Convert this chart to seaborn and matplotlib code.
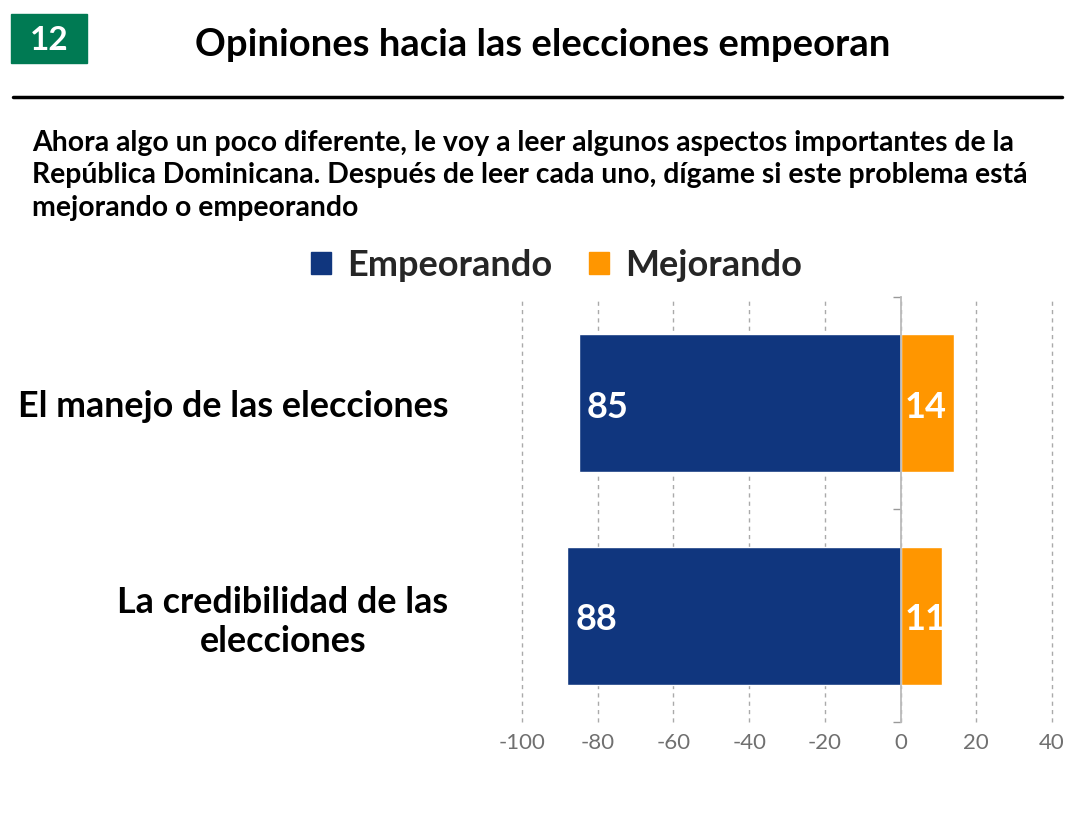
import pandas as pd
import matplotlib.pyplot as plt
import seaborn as sns
from matplotlib.lines import Line2D
from matplotlib.patches import Rectangle

# Datos del gráfico
aspectos = ["El manejo de las elecciones", "La credibilidad de las\nelecciones"]
empeorando = [85, 88]
mejorando = [14, 11]
series = ["Empeorando", "Mejorando"]
colores = ["#10367e", "#ff9600"]
xticks = [-100, -80, -60, -40, -20, 0, 20, 40]

titulo = "Opiniones hacia las elecciones empeoran"
numero = "12"
subtitulo = ("Ahora algo un poco diferente, le voy a leer algunos aspectos importantes de la\n"
             "República Dominicana. Después de leer cada uno, dígame si este problema está\n"
             "mejorando o empeorando")

# Tabla larga para seaborn (empeorando va a la izquierda)
df = pd.DataFrame({
    "aspecto": aspectos * 2,
    "valor": [-v for v in empeorando] + mejorando,
    "serie": [series[0]] * len(aspectos) + [series[1]] * len(aspectos),
})

sns.set_theme(style="white")
plt.rcParams["font.family"] = ["Lato", "DejaVu Sans"]
peso = "bold"

fig = plt.figure(figsize=(10.87, 8.40), dpi=100)
ax = fig.add_axes([0.4802, 0.1405, 0.4876, 0.5060])

sns.barplot(data=df, y="aspecto", x="valor", hue="serie", orient="h",
            dodge=False, width=0.65, palette=colores, hue_order=series,
            order=aspectos, ax=ax, legend=False, saturation=1)

ax.set_xlim(xticks[0], xticks[-1])
ax.set_ylim(1.5, -0.5)
ax.set_xticks(xticks)
ax.set_xticklabels([str(t) for t in xticks], fontsize=16, color="#707070")
ax.set_xlabel("")
ax.set_ylabel("")

# rejilla punteada
ax.xaxis.grid(True, color="#aaaaaa", linestyle=(0, (3, 3)), linewidth=1)
ax.set_axisbelow(True)
for gl in ax.get_xgridlines():
    gl.set_clip_on(False)
for s in ["top", "bottom", "left"]:
    ax.spines[s].set_visible(False)
ax.spines["right"].set_position(("data", 0))
ax.spines["right"].set_color("#bbbbbb")
ax.spines["right"].set_linewidth(1.3)
ax.spines["right"].set_zorder(5)

ax.set_yticks(range(len(aspectos)))
ax.set_yticks([-0.5, 0.5, 1.5], minor=True)
ax.tick_params(axis="y", which="both", left=False, right=True, labelleft=True,
               labelright=False, direction="in", length=6, color="#999999",
               width=1, pad=53)
ax.tick_params(axis="x", length=0, pad=8)
ax.set_yticklabels(aspectos, fontsize=25.8, fontweight=peso, color="black",
                   multialignment="center", linespacing=1.22)

# etiquetas de valores
for i, (e, m) in enumerate(zip(empeorando, mejorando)):
    ax.text(-e + 2.2, i + 0.02, str(e), ha="left", va="center", color="white",
            fontsize=26, fontweight=peso, zorder=6)
    ax.text(1.0, i + 0.02, str(m), ha="left", va="center", color="white",
            fontsize=26, fontweight=peso, zorder=6)

# leyenda
handles = [Rectangle((0, 0), 1, 1, color=c) for c in colores]
fig.legend(handles, series, loc="center", bbox_to_anchor=(0.512, 0.684),
           ncol=2, frameon=False, handlelength=0.55, handleheight=0.55,
           handletextpad=0.45, columnspacing=1.0,
           prop={"size": 26, "weight": peso})

# encabezado
fig.add_artist(Rectangle((11 / 1087, 1 - 63 / 840), 76 / 1087, 49 / 840,
                         transform=fig.transFigure, color="#007a53"))
fig.text(49 / 1087, 1 - 40 / 840, numero, ha="center", va="center",
         color="white", fontsize=24, fontweight=peso)
fig.text(543 / 1087, 1 - 45 / 840, titulo, ha="center", va="center",
         color="black", fontsize=27.5, fontweight=peso)
fig.add_artist(Line2D([13 / 1087, 1062 / 1087], [1 - 97 / 840, 1 - 97 / 840],
                      transform=fig.transFigure, color="black", linewidth=2.5))
fig.text(32 / 1087, 1 - 130 / 840, subtitulo, ha="left", va="top",
         color="black", fontsize=20.4, fontweight=peso, linespacing=1.3)

fig.savefig("out.png", dpi=100)
